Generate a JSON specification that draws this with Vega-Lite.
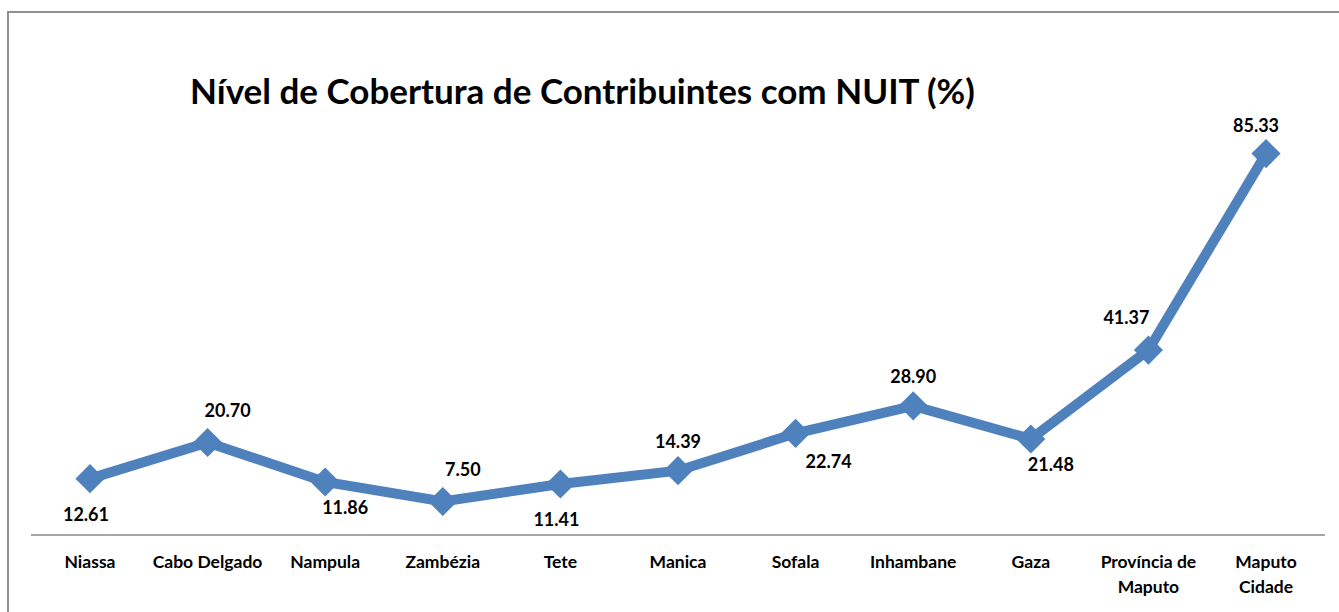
{
  "$schema": "https://vega.github.io/schema/vega-lite/v6.json",
  "autosize": "none",
  "width": 1340,
  "height": 610,
  "padding": {"left": 8, "top": 12, "right": 0, "bottom": 0},
  "background": "white",
  "config": {
    "view": {"stroke": "#8f8f8f", "strokeWidth": 2},
    "font": "Lato"
  },
  "title": {
    "text": "Nível de Cobertura de Contribuintes com NUIT (%)",
    "anchor": "start",
    "frame": "group",
    "orient": "top",
    "offset": -127,
    "baseline": "alphabetic",
    "dx": 182,
    "font": "Lato",
    "fontSize": 35,
    "fontWeight": "bold",
    "color": "#000000"
  },
  "data": {
    "values": [
      {"regiao": "Niassa", "valor": 12.61},
      {"regiao": "Cabo Delgado", "valor": 20.70},
      {"regiao": "Nampula", "valor": 11.86},
      {"regiao": "Zambézia", "valor": 7.50},
      {"regiao": "Tete", "valor": 11.41},
      {"regiao": "Manica", "valor": 14.39},
      {"regiao": "Sofala", "valor": 22.74},
      {"regiao": "Inhambane", "valor": 28.90},
      {"regiao": "Gaza", "valor": 21.48},
      {"regiao": "Província de Maputo", "valor": 41.37},
      {"regiao": "Maputo Cidade", "valor": 85.33}
    ]
  },
  "encoding": {
    "x": {
      "field": "regiao",
      "type": "nominal",
      "sort": null,
      "scale": {
        "type": "band",
        "domain": ["Niassa", "Cabo Delgado", "Nampula", "Zambézia", "Tete", "Manica", "Sofala", "Inhambane", "Gaza", "Província de Maputo", "Maputo Cidade"],
        "paddingInner": 0,
        "paddingOuter": 0.197
      },
      "axis": {
        "title": null,
        "orient": "bottom",
        "offset": -87,
        "domain": false,
        "ticks": false,
        "tickSize": 0,
        "grid": false,
        "labelAngle": 0,
        "labelFont": "Lato",
        "labelFontSize": 17.5,
        "labelFontWeight": "bold",
        "labelColor": "#000000",
        "labelPadding": 18,
        "labelLineHeight": 25,
        "labelOverlap": false,
        "labelLimit": 0,
        "labelExpr": "datum.value == 'Província de Maputo' ? ['Província de', 'Maputo'] : datum.value == 'Maputo Cidade' ? ['Maputo', 'Cidade'] : datum.value"
      }
    },
    "y": {
      "field": "valor",
      "type": "quantitative",
      "scale": {"domain": [-19.46, 117.0], "nice": false, "zero": false},
      "axis": null
    }
  },
  "layer": [
    {
      "mark": {"type": "rule", "color": "#a6a6a6", "strokeWidth": 1.5},
      "encoding": {
        "x": {"datum": "Niassa", "bandPosition": 0},
        "x2": {"datum": "Maputo Cidade", "bandPosition": 1},
        "y": {"datum": 0}
      }
    },
    {
      "mark": {"type": "line", "color": "#4F81BD", "strokeWidth": 10, "strokeJoin": "miter"}
    },
    {
      "mark": {"type": "point", "shape": "diamond", "filled": true, "size": 850, "color": "#4F81BD", "opacity": 1}
    },
    {
      "transform": [{"filter": {"field": "regiao", "oneOf": ["Niassa", "Tete"]}}],
      "mark": {"type": "text", "font": "Lato", "fontSize": 18, "fontWeight": "bold", "color": "#000000", "baseline": "middle", "dx": -4, "dy": 37},
      "encoding": {"text": {"field": "valor", "type": "quantitative", "format": ".2f"}}
    },
    {
      "transform": [{"filter": {"field": "regiao", "oneOf": ["Nampula", "Gaza"]}}],
      "mark": {"type": "text", "font": "Lato", "fontSize": 18, "fontWeight": "bold", "color": "#000000", "baseline": "middle", "dx": 20, "dy": 27},
      "encoding": {"text": {"field": "valor", "type": "quantitative", "format": ".2f"}}
    },
    {
      "transform": [{"filter": {"field": "regiao", "oneOf": ["Sofala"]}}],
      "mark": {"type": "text", "font": "Lato", "fontSize": 18, "fontWeight": "bold", "color": "#000000", "baseline": "middle", "dx": 33, "dy": 30},
      "encoding": {"text": {"field": "valor", "type": "quantitative", "format": ".2f"}}
    },
    {
      "transform": [{"filter": {"field": "regiao", "oneOf": ["Cabo Delgado", "Zambézia"]}}],
      "mark": {"type": "text", "font": "Lato", "fontSize": 18, "fontWeight": "bold", "color": "#000000", "baseline": "middle", "dx": 20, "dy": -30},
      "encoding": {"text": {"field": "valor", "type": "quantitative", "format": ".2f"}}
    },
    {
      "transform": [{"filter": {"field": "regiao", "oneOf": ["Manica", "Inhambane"]}}],
      "mark": {"type": "text", "font": "Lato", "fontSize": 18, "fontWeight": "bold", "color": "#000000", "baseline": "middle", "dx": 0, "dy": -28},
      "encoding": {"text": {"field": "valor", "type": "quantitative", "format": ".2f"}}
    },
    {
      "transform": [{"filter": {"field": "regiao", "oneOf": ["Maputo Cidade"]}}],
      "mark": {"type": "text", "font": "Lato", "fontSize": 18, "fontWeight": "bold", "color": "#000000", "baseline": "middle", "dx": -10, "dy": -27},
      "encoding": {"text": {"field": "valor", "type": "quantitative", "format": ".2f"}}
    },
    {
      "transform": [{"filter": {"field": "regiao", "oneOf": ["Província de Maputo"]}}],
      "mark": {"type": "text", "font": "Lato", "fontSize": 18, "fontWeight": "bold", "color": "#000000", "baseline": "middle", "dx": -22, "dy": -31},
      "encoding": {"text": {"field": "valor", "type": "quantitative", "format": ".2f"}}
    }
  ]
}
